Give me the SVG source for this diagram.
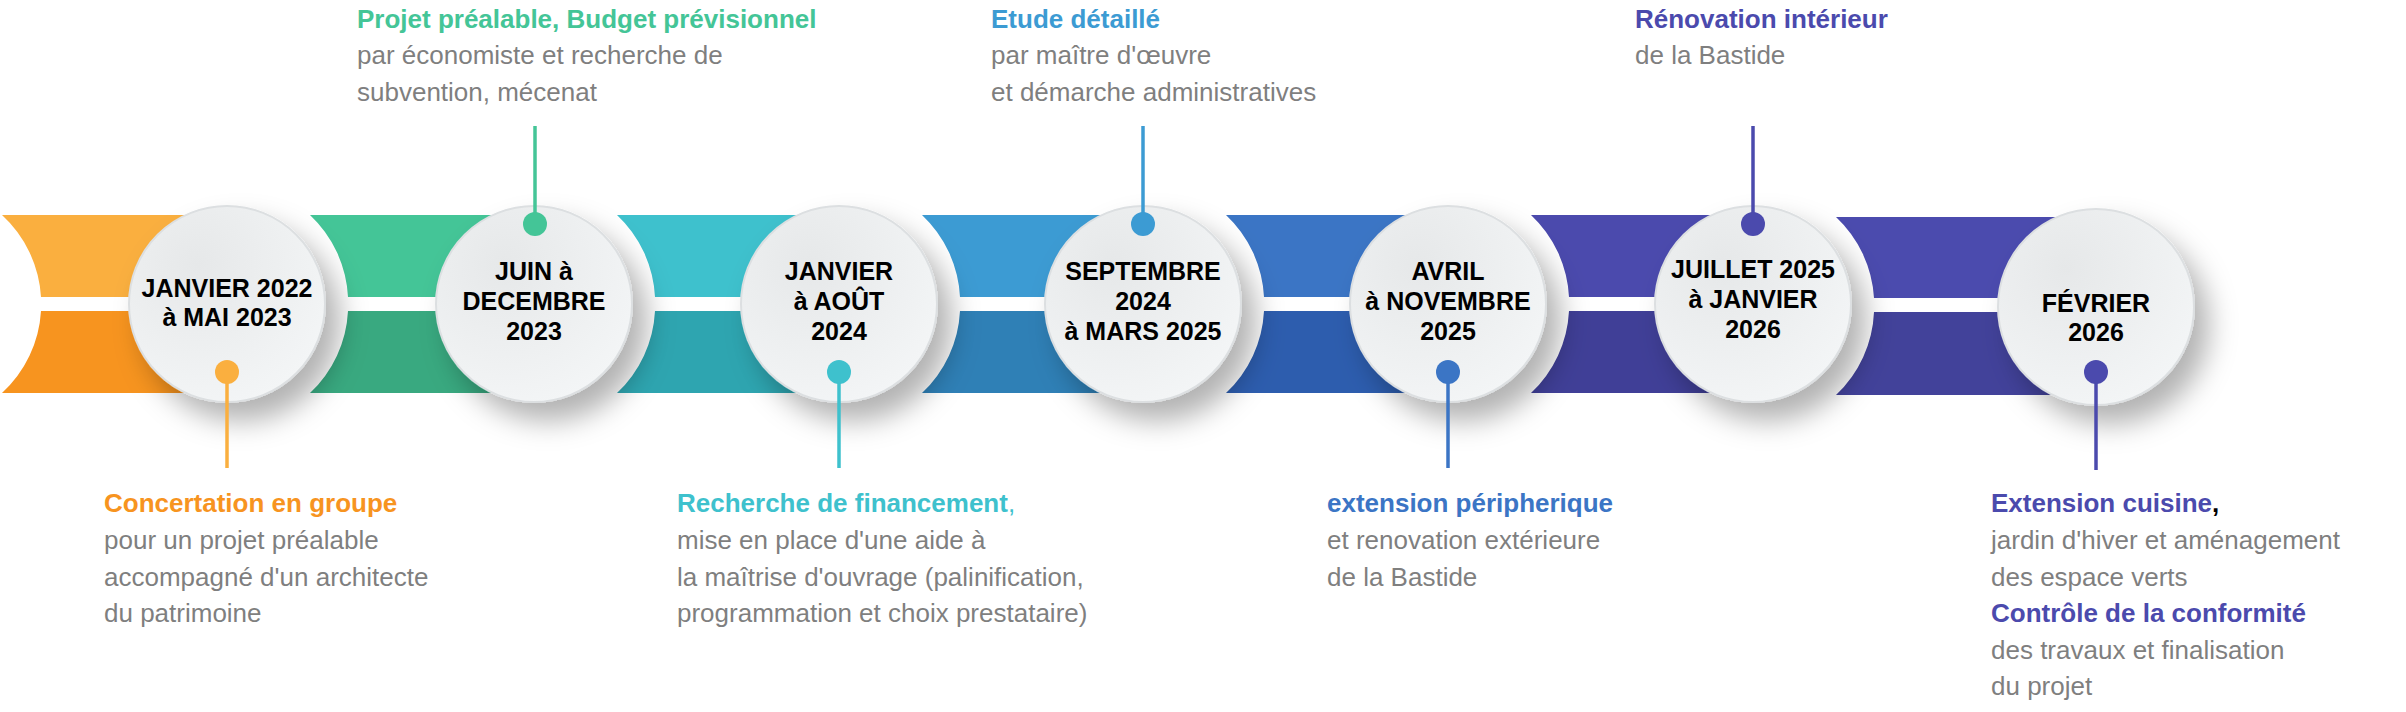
<svg xmlns="http://www.w3.org/2000/svg" width="2406" height="712" viewBox="0 0 2406 712">
<style>
.d{font-family:"Liberation Sans Narrow","Liberation Sans",Arial,sans-serif;font-weight:bold;font-size:25px;fill:#000;text-anchor:middle}
.h{font-family:"Liberation Sans",Arial,sans-serif;font-weight:bold;font-size:26px}
.t{font-family:"Liberation Sans",Arial,sans-serif;font-size:26px;fill:#7f7f7f}
.ln{stroke-width:3.5;fill:none}
</style>
<defs>
<radialGradient id="cg" cx="0.35" cy="0.3" r="0.8">
<stop offset="0" stop-color="#e6e8e9"/><stop offset="1" stop-color="#f4f6f7"/>
</radialGradient>
<filter id="sh" x="-40%" y="-40%" width="200%" height="200%">
<feDropShadow dx="14" dy="18" stdDeviation="14" flood-color="#000" flood-opacity="0.3"/>
</filter>
</defs>
<g id="band">
<path fill="#FAAF3F" d="M2,215 L227,215 L227,297 L41,297 A121 121 0 0 0 2,215 Z"/>
<path fill="#F7941F" d="M41,311 L227,311 L227,393 L2,393 A121 121 0 0 0 41,311 Z"/>
<path fill="#44C597" d="M310,215 L534,215 L534,297 L348,297 A121 121 0 0 0 310,215 Z"/>
<path fill="#39A980" d="M348,311 L534,311 L534,393 L310,393 A121 121 0 0 0 348,311 Z"/>
<path fill="#3EC1CD" d="M617,215 L839,215 L839,297 L655,297 A121 121 0 0 0 617,215 Z"/>
<path fill="#2EA5B0" d="M655,311 L839,311 L839,393 L617,393 A121 121 0 0 0 655,311 Z"/>
<path fill="#3C9BD3" d="M922,215 L1143,215 L1143,297 L960,297 A121 121 0 0 0 922,215 Z"/>
<path fill="#2F80B6" d="M960,311 L1143,311 L1143,393 L922,393 A121 121 0 0 0 960,311 Z"/>
<path fill="#3B75C5" d="M1226,215 L1448,215 L1448,297 L1264,297 A121 121 0 0 0 1226,215 Z"/>
<path fill="#2D5DAE" d="M1264,311 L1448,311 L1448,393 L1226,393 A121 121 0 0 0 1264,311 Z"/>
<path fill="#4B4AAD" d="M1531,215 L1753,215 L1753,297 L1569,297 A121 121 0 0 0 1531,215 Z"/>
<path fill="#403F97" d="M1569,311 L1753,311 L1753,393 L1531,393 A121 121 0 0 0 1569,311 Z"/>
<path fill="#4B4BAE" d="M1836,217 L2094,217 L2094,298 L1874,298 A121 121 0 0 0 1836,217 Z"/>
<path fill="#42429A" d="M1874,312 L2094,312 L2094,395 L1836,395 A121 121 0 0 0 1874,312 Z"/>
</g>
<g id="n1"><circle cx="227" cy="304" r="98" fill="url(#cg)" stroke="#dcdfe1" stroke-width="2" filter="url(#sh)"/>
<text class="d" x="227" y="297">JANVIER 2022</text><text class="d" x="227" y="326">à MAI 2023</text></g>
<g id="n2"><circle cx="534" cy="304" r="98" fill="url(#cg)" stroke="#dcdfe1" stroke-width="2" filter="url(#sh)"/>
<text class="d" x="534" y="280">JUIN à</text><text class="d" x="534" y="310">DECEMBRE</text><text class="d" x="534" y="340">2023</text></g>
<g id="n3"><circle cx="839" cy="304" r="98" fill="url(#cg)" stroke="#dcdfe1" stroke-width="2" filter="url(#sh)"/>
<text class="d" x="839" y="280">JANVIER</text><text class="d" x="839" y="310">à AOÛT</text><text class="d" x="839" y="340">2024</text></g>
<g id="n4"><circle cx="1143" cy="304" r="98" fill="url(#cg)" stroke="#dcdfe1" stroke-width="2" filter="url(#sh)"/>
<text class="d" x="1143" y="280">SEPTEMBRE</text><text class="d" x="1143" y="310">2024</text><text class="d" x="1143" y="340">à MARS 2025</text></g>
<g id="n5"><circle cx="1448" cy="304" r="98" fill="url(#cg)" stroke="#dcdfe1" stroke-width="2" filter="url(#sh)"/>
<text class="d" x="1448" y="280">AVRIL</text><text class="d" x="1448" y="310">à NOVEMBRE</text><text class="d" x="1448" y="340">2025</text></g>
<g id="n6"><circle cx="1753" cy="304" r="98" fill="url(#cg)" stroke="#dcdfe1" stroke-width="2" filter="url(#sh)"/>
<text class="d" x="1753" y="278">JUILLET 2025</text><text class="d" x="1753" y="308">à JANVIER</text><text class="d" x="1753" y="338">2026</text></g>
<g id="n7"><circle cx="2096" cy="307" r="98" fill="url(#cg)" stroke="#dcdfe1" stroke-width="2" filter="url(#sh)"/>
<text class="d" x="2096" y="312">FÉVRIER</text><text class="d" x="2096" y="341">2026</text></g>
<g id="connectors">
<line class="ln" stroke="#FAAF3F" x1="227" y1="372" x2="227" y2="468"/><circle cx="227" cy="372" r="12" fill="#FAAF3F"/>
<line class="ln" stroke="#44C597" x1="535" y1="224" x2="535" y2="126"/><circle cx="535" cy="224" r="12" fill="#44C597"/>
<line class="ln" stroke="#3EC1CD" x1="839" y1="372" x2="839" y2="468"/><circle cx="839" cy="372" r="12" fill="#3EC1CD"/>
<line class="ln" stroke="#3C9BD3" x1="1143" y1="224" x2="1143" y2="126"/><circle cx="1143" cy="224" r="12" fill="#3C9BD3"/>
<line class="ln" stroke="#3B75C5" x1="1448" y1="372" x2="1448" y2="468"/><circle cx="1448" cy="372" r="12" fill="#3B75C5"/>
<line class="ln" stroke="#4B4AAD" x1="1753" y1="224" x2="1753" y2="126"/><circle cx="1753" cy="224" r="12" fill="#4B4AAD"/>
<line class="ln" stroke="#4B4AAD" x1="2096" y1="372" x2="2096" y2="470"/><circle cx="2096" cy="372" r="12" fill="#4B4AAD"/>
</g>
<g id="labels">
<text class="h" x="357" y="28" fill="#44C597">Projet préalable, Budget prévisionnel</text>
<text class="t" x="357" y="64">par économiste et recherche de</text>
<text class="t" x="357" y="101">subvention, mécenat</text>
<text class="h" x="991" y="28" fill="#3C9BD3">Etude détaillé</text>
<text class="t" x="991" y="64">par maître d'œuvre</text>
<text class="t" x="991" y="101">et démarche administratives</text>
<text class="h" x="1635" y="28" fill="#4B4AAD">Rénovation intérieur</text>
<text class="t" x="1635" y="64">de la Bastide</text>
<text class="h" x="104" y="512" fill="#F7941F">Concertation en groupe</text>
<text class="t" x="104" y="549">pour un projet préalable</text>
<text class="t" x="104" y="586">accompagné d'un architecte</text>
<text class="t" x="104" y="622">du patrimoine</text>
<text class="h" x="677" y="512" fill="#3EC1CD">Recherche de financement<tspan font-weight="normal">,</tspan></text>
<text class="t" x="677" y="549">mise en place d'une aide à</text>
<text class="t" x="677" y="586">la maîtrise d'ouvrage (palinification,</text>
<text class="t" x="677" y="622">programmation et choix prestataire)</text>
<text class="h" x="1327" y="512" fill="#3B75C5">extension péripherique</text>
<text class="t" x="1327" y="549">et renovation extérieure</text>
<text class="t" x="1327" y="586">de la Bastide</text>
<text class="h" x="1991" y="512" fill="#4B4AAD">Extension cuisine<tspan fill="#000">,</tspan></text>
<text class="t" x="1991" y="549">jardin d'hiver et aménagement</text>
<text class="t" x="1991" y="586">des espace verts</text>
<text class="h" x="1991" y="622" fill="#4B4AAD">Contrôle de la conformité</text>
<text class="t" x="1991" y="659">des travaux et finalisation</text>
<text class="t" x="1991" y="695">du projet</text>
</g>
</svg>
